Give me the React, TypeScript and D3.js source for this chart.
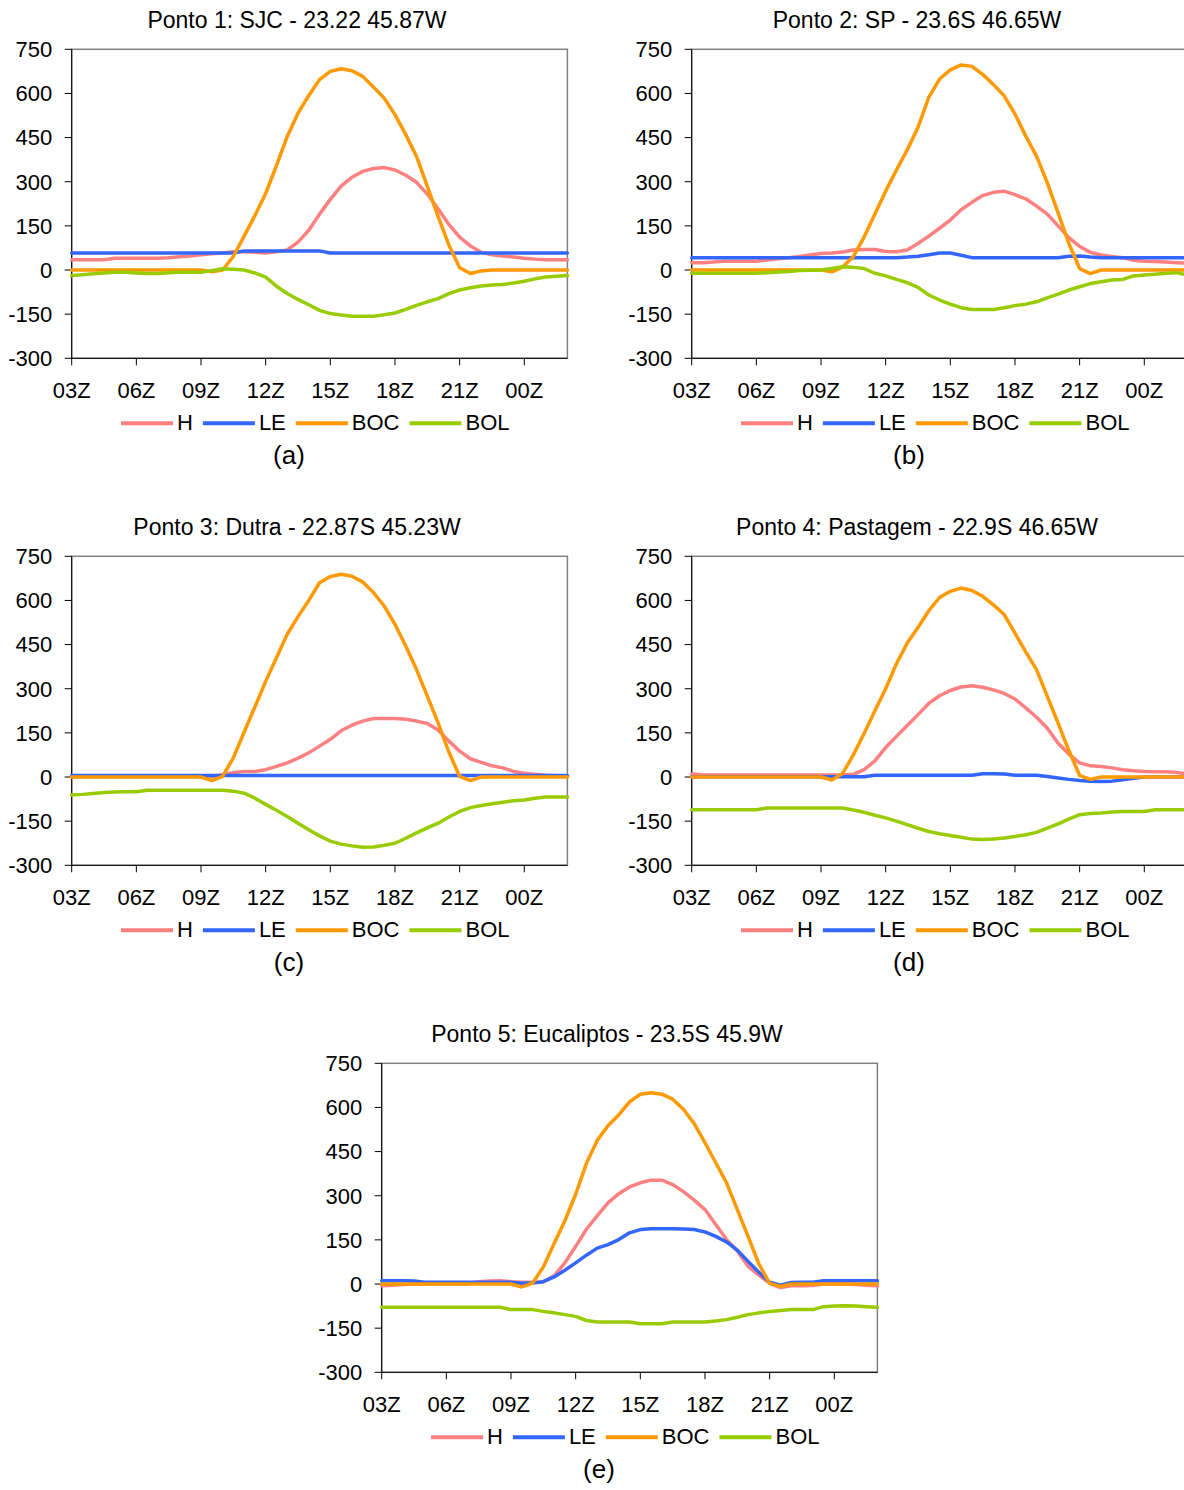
import React from "react";
import * as d3 from "d3";

// ---------- data (half-hourly, 03Z .. 02Z) ----------
const HOURS: number[] = d3.range(0, 23.01, 0.5);
const TICK_HOURS = [0, 3, 6, 9, 12, 15, 18, 21];
const TICK_LABELS = ["03Z", "06Z", "09Z", "12Z", "15Z", "18Z", "21Z", "00Z"];
const Y_TICKS = [-300, -150, 0, 150, 300, 450, 600, 750];
const SERIES_NAMES = ["H", "LE", "BOC", "BOL"];
const SERIES_COLORS = ["#FF8080", "#3366FF", "#FF9900", "#99CC00"];

const TITLES = [
  "Ponto 1: SJC - 23.22 45.87W",
  "Ponto 2: SP - 23.6S 46.65W",
  "Ponto 3: Dutra - 22.87S 45.23W",
  "Ponto 4: Pastagem - 22.9S 46.65W",
  "Ponto 5: Eucaliptos - 23.5S 45.9W",
];
const CAPTIONS = ["(a)", "(b)", "(c)", "(d)", "(e)"];

// Ponto 1
const H_A = [35,35,35,35,40,40,40,40,40,42, 45,48,52,55,58,62,62,60,58,62, 68,95,135,190,240,285,315,335,345,348, 340,322,298,258,208,155,112,82,60,52, 48,44,40,37,35,35,35];
const LE_A = [58,58,58,58,58,58,58,58,58,58, 58,58,58,58,58,58,65,65,65,65, 65,65,65,65,58,58,58,58,58,58, 58,58,58,58,58,58,58,58,58,58, 58,58,58,58,58,58,58];
const BOC_A = [0,0,0,0,0,0,0,0,0,0, 0,0,0,-6,0,46,115,185,260,355, 454,533,593,647,675,684,677,658,622,584, 528,460,386,284,182,85,8,-12,-3,0, 0,0,0,0,0,0,0];
const BOL_A = [-19,-16,-13,-10,-8,-8,-10,-12,-12,-9, -8,-8,-8,-2,4,3,0,-10,-24,-55, -80,-100,-118,-137,-148,-153,-157,-157,-157,-152, -146,-134,-120,-108,-97,-80,-68,-60,-54,-51, -49,-44,-38,-30,-24,-21,-19];

// Ponto 2
const H_B = [25,25,27,30,30,30,30,34,38,42, 46,51,56,58,61,68,70,70,63,62, 68,90,115,142,170,205,230,253,264,268, 256,242,217,190,150,110,80,60,51,46, 42,33,30,29,27,25,23];
const LE_B = [42,42,42,42,42,42,42,42,42,42, 42,42,42,42,42,42,42,42,42,42, 44,47,52,58,58,50,42,42,42,42, 42,42,42,42,42,47,48,44,42,42, 42,42,42,42,42,42,42];
const BOC_B = [0,0,0,0,0,0,0,0,0,0, 0,0,0,-6,10,46,112,190,268,340, 408,485,587,649,680,697,692,665,630,592, 530,455,387,296,194,90,5,-12,0,0, 0,0,0,0,0,0,0];
const BOL_B = [-11,-11,-11,-11,-11,-11,-11,-9,-7,-5, -2,-1,0,5,11,9,5,-11,-20,-32, -43,-59,-85,-102,-116,-128,-134,-134,-134,-128, -121,-116,-108,-95,-82,-68,-57,-46,-40,-34, -32,-20,-17,-14,-11,-9,-17];

// Ponto 3
const H_C = [2,2,2,2,2,2,2,2,2,2, 2,2,2,2,8,15,19,19,25,36, 48,64,82,105,128,157,176,190,199,199, 199,196,190,182,160,122,88,62,50,38, 31,19,13,9,6,4,2];
const LE_C = [5,5,5,5,5,5,5,5,5,5, 5,5,5,5,5,5,5,5,5,5, 5,5,5,5,5,5,5,5,5,5, 5,5,5,5,5,5,5,5,5,5, 5,5,5,5,5,5,5];
const BOC_C = [0,0,0,0,0,0,0,0,0,0, 0,0,0,-12,2,65,152,238,325,405, 485,545,600,660,681,689,682,663,627,581, 519,445,365,275,184,85,2,-12,0,0, 0,0,0,0,0,0,0];
const BOL_C = [-61,-59,-56,-53,-51,-50,-50,-45,-45,-45, -45,-45,-45,-45,-45,-48,-55,-72,-93,-113, -134,-157,-179,-200,-218,-228,-234,-239,-238,-232, -225,-208,-190,-173,-157,-136,-117,-104,-97,-91, -86,-81,-78,-72,-68,-68,-68];

// Ponto 4
const H_D = [10,8,7,7,7,7,7,7,7,7, 7,7,7,7,7,9,25,55,100,138, 175,212,250,276,294,306,310,305,296,284, 265,235,203,166,115,78,48,38,36,31, 25,21,19,18,18,15,11];
const LE_D = [1,1,1,1,1,1,1,1,1,1, 1,1,1,1,1,1,1,6,6,6, 6,6,6,6,6,6,6,11,11,10, 6,6,6,2,-3,-8,-12,-14,-15,-14, -9,-4,0,0,0,0,0];
const BOC_D = [0,0,0,0,0,0,0,0,0,0, 0,0,0,-10,12,75,148,225,300,385, 455,508,565,610,631,642,634,614,585,552, 489,425,365,274,183,90,5,-8,0,0, 0,0,0,0,0,0,0];
const BOL_D = [-111,-111,-111,-111,-111,-111,-111,-105,-105,-105, -105,-105,-105,-105,-105,-112,-120,-130,-139,-150, -162,-174,-185,-193,-199,-205,-211,-212,-211,-207, -202,-196,-188,-174,-159,-143,-128,-124,-122,-119, -117,-117,-117,-111,-111,-111,-111];

// Ponto 5
const H_E = [-6,-4,-2,0,0,0,0,0,0,8, 10,11,8,6,6,8,28,72,128,186, 232,276,307,330,344,353,353,338,314,285, 253,202,151,112,60,30,3,-12,-6,-6, -5,0,0,0,-2,-4,-6];
const LE_E = [11,11,11,10,6,6,6,6,6,6, 6,6,6,3,3,8,24,47,72,98, 122,134,151,174,185,188,188,188,187,185, 177,162,143,115,77,40,6,-4,5,6, 6,11,11,11,11,11,11];
const BOC_E = [0,0,0,0,0,0,0,0,0,0, 0,0,0,-10,3,58,138,215,305,410, 488,538,575,619,645,650,645,628,594,545, 480,412,344,253,162,68,2,-8,0,0, 0,0,0,0,0,0,0];
const BOL_E = [-79,-79,-79,-79,-79,-79,-79,-79,-79,-79, -79,-79,-87,-87,-87,-93,-98,-104,-110,-124, -129,-129,-129,-129,-135,-135,-135,-129,-129,-129, -129,-126,-121,-113,-104,-98,-93,-90,-87,-87, -87,-77,-75,-74,-75,-77,-79];

const PANEL_SERIES = [
  [H_A, LE_A, BOC_A, BOL_A],
  [H_B, LE_B, BOC_B, BOL_B],
  [H_C, LE_C, BOC_C, BOL_C],
  [H_D, LE_D, BOC_D, BOL_D],
  [H_E, LE_E, BOC_E, BOL_E],
];

// ---------- layout ----------
const W = 1184;
const HGT = 1490;
const FONT = "'Liberation Sans', Arial, Helvetica, sans-serif";
const PANEL_OFFSETS = [
  [0, 0],
  [620, 0],
  [0, 507],
  [620, 507],
  [310, 1014],
];
const PLOT_LEFT = 71.7;
const PLOT_TOP = 49.3;
const PLOT_W = 495.7;
const PLOT_H = 309;
const TICK_FS = 22;
const TITLE_FS = 23;
const CAP_FS = 26;

let _ctx: CanvasRenderingContext2D | null = null;
function textW(s: string, size: number): number {
  if (!_ctx) {
    const c = document.createElement("canvas");
    _ctx = c.getContext("2d");
  }
  if (!_ctx) return s.length * size * 0.6;
  _ctx.font = `${size}px 'Liberation Sans', Arial, sans-serif`;
  return _ctx.measureText(s).width;
}

function Panel({ idx }: { idx: number }) {
  const [dx, dy] = PANEL_OFFSETS[idx];
  const left = PLOT_LEFT + dx;
  const top = PLOT_TOP + dy;
  const right = left + PLOT_W;
  const bottom = top + PLOT_H;
  const x = d3.scaleLinear().domain([0, 23]).range([left, right]);
  const y = d3.scaleLinear().domain([-300, 750]).range([bottom, top]);
  const line = d3
    .line<number>()
    .x((_, i) => x(HOURS[i]))
    .y((d) => y(d));

  // legend layout
  const legendItems: { name: string; color: string; x0: number; tx: number }[] = [];
  let cur = left + 49.3;
  SERIES_NAMES.forEach((name, i) => {
    const x0 = cur;
    const tx = x0 + 52 + 4;
    legendItems.push({ name, color: SERIES_COLORS[i], x0, tx });
    cur = tx + textW(name, TICK_FS) + 10;
  });

  return (
    <g>
      <text
        x={297 + dx}
        y={27.7 + dy}
        textAnchor="middle"
        fontSize={TITLE_FS}
        fontFamily={FONT}
        fill="#000"
      >
        {TITLES[idx]}
      </text>
      <rect
        x={left}
        y={top}
        width={PLOT_W}
        height={PLOT_H}
        fill="none"
        stroke="#808080"
        strokeWidth={1.5}
      />
      <line x1={left} x2={left} y1={top} y2={bottom} stroke="#000" strokeWidth={1} />
      <line x1={left} x2={right} y1={bottom} y2={bottom} stroke="#000" strokeWidth={1} />
      {Y_TICKS.map((t) => (
        <g key={"y" + t}>
          <line x1={left - 7} x2={left} y1={y(t)} y2={y(t)} stroke="#000" strokeWidth={1} />
          <text
            x={left - 19.4}
            y={y(t) + 7.9}
            textAnchor="end"
            fontSize={TICK_FS}
            fontFamily={FONT}
            fill="#000"
          >
            {t}
          </text>
        </g>
      ))}
      {TICK_HOURS.map((h, i) => (
        <g key={"x" + h}>
          <line x1={x(h)} x2={x(h)} y1={bottom} y2={bottom + 7} stroke="#000" strokeWidth={1} />
          <text
            x={x(h)}
            y={bottom + 40}
            textAnchor="middle"
            fontSize={TICK_FS}
            fontFamily={FONT}
            fill="#000"
          >
            {TICK_LABELS[i]}
          </text>
        </g>
      ))}
      {PANEL_SERIES[idx].map((vals, i) => (
        <path
          key={"s" + i}
          d={line(vals) || ""}
          fill="none"
          stroke={SERIES_COLORS[i]}
          strokeWidth={3.5}
          strokeLinejoin="round"
          strokeLinecap="round"
        />
      ))}
      {legendItems.map((it) => (
        <g key={"l" + it.name}>
          <line
            x1={it.x0}
            x2={it.x0 + 52}
            y1={bottom + 65}
            y2={bottom + 65}
            stroke={it.color}
            strokeWidth={4}
          />
          <text
            x={it.tx}
            y={bottom + 71.3}
            fontSize={TICK_FS}
            fontFamily={FONT}
            fill="#000"
          >
            {it.name}
          </text>
        </g>
      ))}
      <text
        x={289 + dx}
        y={464 + dy}
        textAnchor="middle"
        fontSize={CAP_FS}
        fontFamily={FONT}
        fill="#000"
      >
        {CAPTIONS[idx]}
      </text>
    </g>
  );
}

export default function App() {
  return (
    <svg
      width={W}
      height={HGT}
      viewBox={`0 0 ${W} ${HGT}`}
      style={{ position: "absolute", left: 0, top: 0, display: "block", background: "#fff" }}
    >
      <rect x={0} y={0} width={W} height={HGT} fill="#fff" />
      {PANEL_OFFSETS.map((_, i) => (
        <Panel key={i} idx={i} />
      ))}
    </svg>
  );
}
